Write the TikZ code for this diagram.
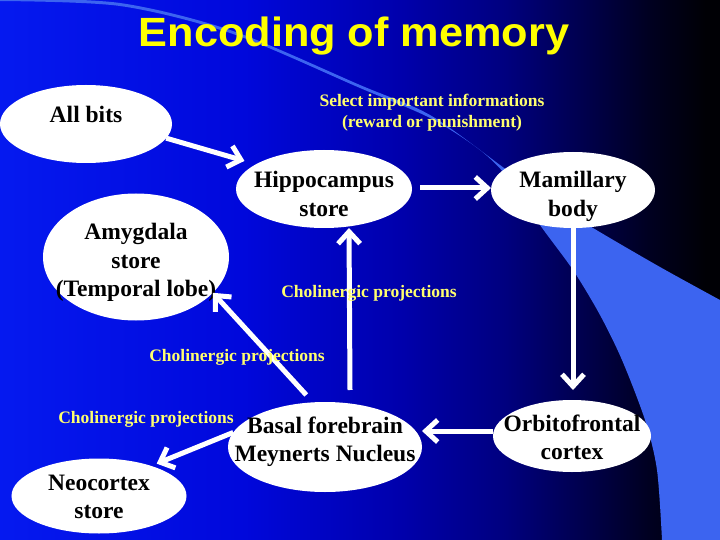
\documentclass[tikz,border=0pt]{standalone}
\usepackage{fontspec}
\usepackage{graphicx}
\setmainfont{Liberation Serif}
\newfontfamily\titlefont{Liberation Sans}
\usetikzlibrary{shapes.geometric,arrows.meta}
\definecolor{bandblue}{RGB}{60,100,240}
\definecolor{labyellow}{RGB}{255,255,110}
\definecolor{titleyellow}{RGB}{255,255,0}
\pgfdeclarehorizontalshading{bgshade}{100bp}{%
  rgb(0bp)=(0.02,0.1,0.94); rgb(25bp)=(0.02,0.1,0.94);
  rgb(42bp)=(0,0.03,0.86); rgb(53bp)=(0,0,0.67); rgb(60bp)=(0,0,0.5);
  rgb(65bp)=(0,0,0.32); rgb(70bp)=(0,0,0.13); rgb(74bp)=(0,0,0.02);
  rgb(100bp)=(0,0,0)}
\newcommand\ntext[2]{\smash{\makebox[0pt]{\raisebox{#1}{\begin{tabular}[t]{@{}c@{}}#2\end{tabular}}}}}
\begin{document}
\begin{tikzpicture}[x=1bp,y=-1bp,
  ell/.style={ellipse, fill=white, inner sep=0pt, outer sep=0pt, text=black,
    font=\fontsize{23.6}{28.6}\selectfont\bfseries},
  lab/.style={text=labyellow, inner sep=0pt, anchor=base,
    font=\fontsize{17.6}{20.1}\selectfont\bfseries},
  arr/.style={draw=white, line width=5bp, -{Straight Barb[length=12bp,width=22bp]}}]
\useasboundingbox (0,0) rectangle (720,540);
\shade[shading=bgshade] (0,0) rectangle (720,540);
\fill[bandblue] plot[smooth] coordinates {(-2,1) (120,6) (233,34) (360,88) (430,118) (480,150) (510,180) (540,225) (573,270) (600,315) (622,360) (645,420) (657,470) (662,540)}
  -- (720,540) -- plot[smooth] coordinates {(720,300) (660,267) (593,228) (540,195) (500,165) (430,115) (360,85) (233,31) (120,3) (-2,-2)} -- cycle;

\node[anchor=base, text=titleyellow, font=\titlefont\bfseries\fontsize{41}{48}\selectfont] (title) at (354,47) {\scalebox{1.06}[1]{Encoding of memory}};

\node[ell, minimum width=172bp, minimum height=78bp] (allbits) at (86,124) {\ntext{1bp}{All bits}};
\node[ell, minimum width=186bp, minimum height=127bp] (amyg) at (136,257) {\ntext{17bp}{Amygdala\\store\\(Temporal lobe)}};
\node[ell, minimum width=176bp, minimum height=78bp] (hippo) at (324,189) {\ntext{1bp}{Hippocampus\\store}};
\node[ell, minimum width=164bp, minimum height=76bp] (mam) at (573,190) {\ntext{2bp}{Mamillary\\body}};
\node[ell, minimum width=194bp, minimum height=90bp] (basal) at (325,447) {\ntext{14bp}{Basal forebrain\\Meynerts Nucleus}};
\node[ell, minimum width=158bp, minimum height=72bp] (orb) at (572,436) {\ntext{5bp}{Orbitofrontal\\cortex}};
\node[ell, minimum width=175bp, minimum height=75bp] (neo) at (99,496) {\ntext{6bp}{Neocortex\\store}};

\draw[arr, shorten >=12bp] (allbits.-10) -- (hippo.160);
\draw[arr, shorten <=8bp] ([yshift=1bp]hippo.east) -- ([yshift=1bp]hippo.east -| mam.west);
\draw[arr, shorten >=10bp] (mam.south) -- (mam.south |- orb.north);
\draw[arr] ([yshift=5bp]orb.west) -- ([yshift=5bp]orb.west -| basal.east);
\draw[arr] ([xshift=25bp,yshift=12bp]basal.north) -- ([xshift=25bp]hippo.south);
\draw[arr, shorten <=10bp] (basal.105) -- (amyg.-25);
\draw[arr, shorten >=6bp] (basal.171) -- (neo.30);

\node[lab] (sel) at (432,107) {\begin{tabular}[t]{@{}c@{}}Select important informations\\(reward or punishment)\end{tabular}};
\node[lab] (ch1) at (369,297) {Cholinergic projections};
\node[lab] (ch2) at (237,361) {Cholinergic projections};
\node[lab] (ch3) at (146,423) {Cholinergic projections};
\end{tikzpicture}
\end{document}
